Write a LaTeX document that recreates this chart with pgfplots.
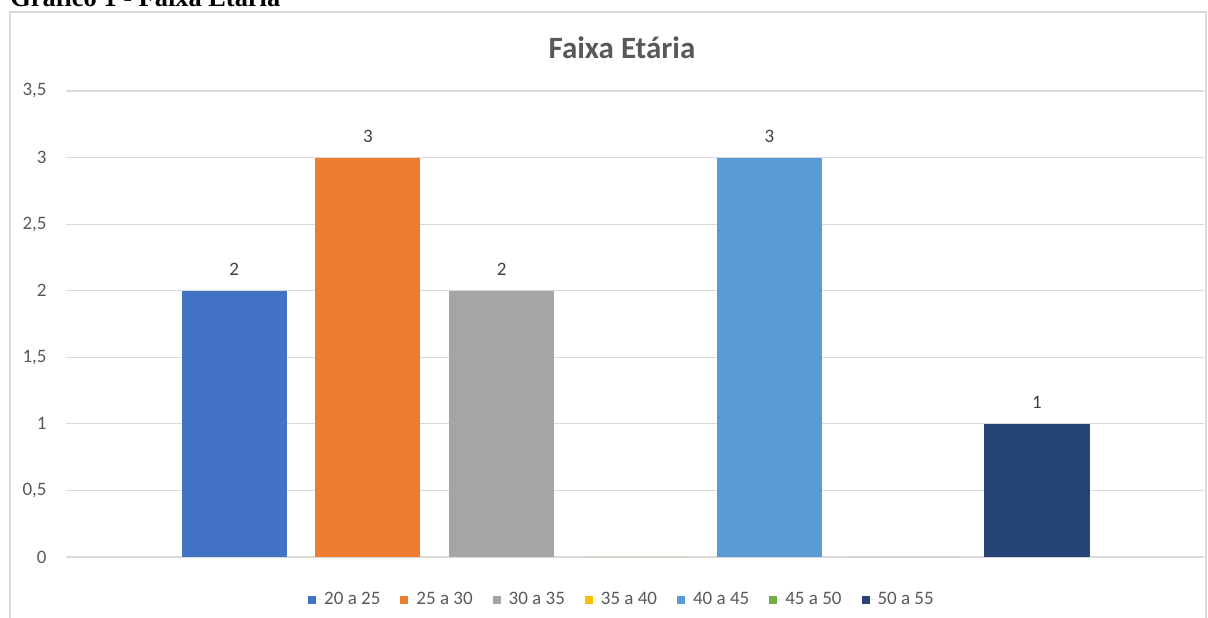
\documentclass[border=0pt]{standalone}
\usepackage{fontspec}
\setmainfont{Carlito}
\newfontfamily\timesf{Liberation Serif}
\usepackage{pgfplots}
\pgfplotsset{compat=1.18}

\definecolor{gridc}{HTML}{D9D9D9}
\definecolor{txt}{HTML}{595959}
\definecolor{lbl}{HTML}{404040}
\definecolor{cA}{HTML}{4472C4}
\definecolor{cB}{HTML}{ED7D31}
\definecolor{cC}{HTML}{A5A5A5}
\definecolor{cD}{HTML}{FFC000}
\definecolor{cE}{HTML}{5B9BD5}
\definecolor{cF}{HTML}{70AD47}
\definecolor{cG}{HTML}{264478}

\begin{document}
\begin{tikzpicture}[x=0.5pt,y=0.5pt]
\useasboundingbox (0,0) rectangle (1208,617);
\clip (0,0) rectangle (1208,617);
% chart frame
\draw[gridc, line width=0.7pt] (10,-10) rectangle (1206,605);
% caption (cut at the top, as in the scan)
\node[anchor=base west, inner sep=0pt, font=\timesf\bfseries\fontsize{13.2}{15}\selectfont] at (10,610) {Gráfico 1 - Faixa Etária};
% chart title
\node[font=\bfseries\fontsize{15.5}{17}\selectfont, text=txt] at (622,569) {Faixa Etária};

\begin{axis}[
  at={(33pt,30pt)}, anchor=south west,
  scale only axis, width=569pt, height=233pt,
  ybar, bar width=0.785,
  xmin=-1.256, xmax=7.248,
  ymin=0, ymax=3.5,
  ytick={0,0.5,...,3.5},
  xtick=\empty,
  axis line style={draw=none},
  major tick style={draw=none},
  ymajorgrids, grid style={draw=gridc, line width=0.55pt},
  /pgf/number format/use comma,
  /pgf/number format/assume math mode=true,
  yticklabel style={font=\fontsize{9.5}{11}\selectfont, text=txt, anchor=east, inner sep=0pt, xshift=-9.5pt},
  nodes near coords,
  every node near coord/.append style={font=\fontsize{9.5}{11}\selectfont, text=lbl, yshift=4pt},
  legend columns=-1,
  legend style={at={(0.489,-0.092)}, anchor=center, draw=none, fill=none,
    font=\fontsize{9.5}{11}\selectfont, text=txt,
    nodes={inner sep=1.5pt},
    /tikz/every even column/.append style={column sep=8.5pt}},
  legend image code/.code={\fill[#1] (0pt,-2pt) rectangle (4pt,2pt); \path (0pt,0pt) -- (6.5pt,0pt);},
]
\addplot[fill=cA, draw=none, bar shift=0pt] coordinates {(0,2)};
\addlegendentry{20 a 25}
\addplot[fill=cB, draw=none, bar shift=0pt] coordinates {(1,3)};
\addlegendentry{25 a 30}
\addplot[fill=cC, draw=none, bar shift=0pt] coordinates {(2,2)};
\addlegendentry{30 a 35}
\addplot[fill=cD, draw=none, bar shift=0pt, nodes near coords={}] coordinates {(3,0)};
\addlegendentry{35 a 40}
\addplot[fill=cE, draw=none, bar shift=0pt] coordinates {(4,3)};
\addlegendentry{40 a 45}
\addplot[fill=cF, draw=none, bar shift=0pt, nodes near coords={}] coordinates {(5,0)};
\addlegendentry{45 a 50}
\addplot[fill=cG, draw=none, bar shift=0pt] coordinates {(6,1)};
\addlegendentry{50 a 55}
\end{axis}
\end{tikzpicture}
\end{document}
